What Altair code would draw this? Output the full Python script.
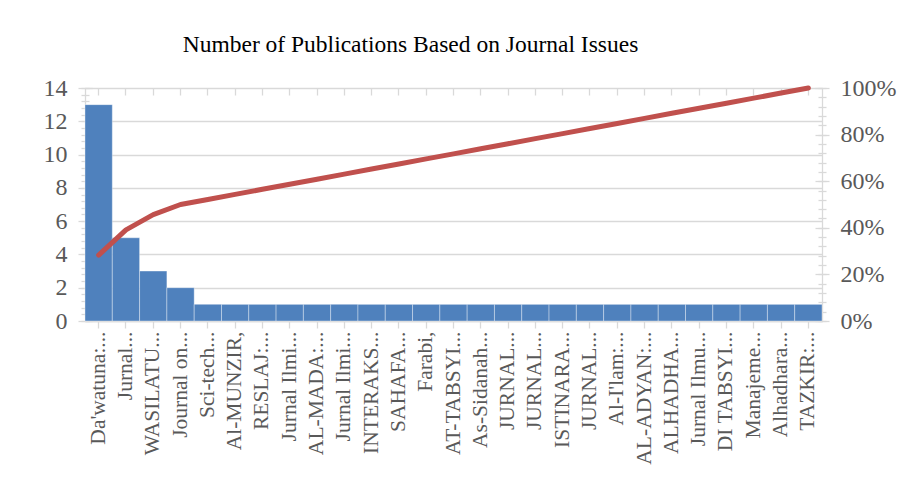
import altair as alt
import pandas as pd

journals = [
    "Da'watuna:...", "Jurnal...", "WASILATU...", "Journal on...", "Sci-tech...",
    "Al-MUNZIR,", "RESLAJ:...", "Jurnal Ilmi...", "AL-MADA:...", "Jurnal Ilmi... ",
    "INTERAKS...", "SAHAFA...", "Farabi,", "AT-TABSYI...", "As-Sidanah...",
    "JURNAL...", "JURNAL... ", "ISTINARA...", "JURNAL...  ", "Al-I'lam:...",
    "AL-ADYAN:...", "ALHADHA...", "Jurnal Ilmu...", "DI TABSYI...", "Manajeme...",
    "Alhadhara...", "TAZKIR:...",
]
counts = [13, 5, 3, 2] + [1] * 23

left_major = [0, 2, 4, 6, 8, 10, 12, 14]
left_minor = [round(k * 0.4, 1) for k in range(36)]
right_major = [0, 0.2, 0.4, 0.6, 0.8, 1.0]
right_minor = [round(k * 0.04, 2) for k in range(26)]

total = sum(counts)
cum = []
s = 0
for c in counts:
    s += c
    cum.append(s / total)

df = pd.DataFrame({"journal": journals, "count": counts, "cum": cum})

SERIF = "Liberation Serif"
LABEL_COLOR = "#595959"
GRID = "#D9D9D9"

xenc = alt.X(
    "journal:N",
    sort=journals,
    scale=alt.Scale(paddingInner=0, paddingOuter=0),
    axis=alt.Axis(
        title=None, labelAngle=-90, labelFont=SERIF, labelFontSize=21.5,
        labelColor=LABEL_COLOR, domainColor=GRID, domainWidth=1.3,
        tickColor=GRID, tickWidth=1.3, tickSize=7,
        bandPosition=0.5, labelPadding=3, labelLimit=300, labelAlign="right",
        labelBaseline="middle",
    ),
)
x_plain = alt.X("journal:N", sort=journals, axis=None)
x_ticks_inner = alt.X(
    "journal:N", sort=journals,
    axis=alt.Axis(
        title=None, labels=False, domain=False, grid=False, offset=-7,
        tickSize=7, tickColor=GRID, tickWidth=1.3, bandPosition=0.5,
    ),
)

left_scale = alt.Scale(domain=[0, 14], nice=False)
right_scale = alt.Scale(domain=[0, 1], nice=False)

bars = alt.Chart(df).mark_bar(
    color="#4F81BD", stroke="#FFFFFF", strokeWidth=0.8, strokeOpacity=0.45
).encode(
    x=xenc,
    y=alt.Y(
        "count:Q", scale=left_scale,
        axis=alt.Axis(
            title=None, values=left_major, labelFont=SERIF,
            labelFontSize=24, labelColor=LABEL_COLOR, domainColor=GRID,
            domainWidth=1.3, tickColor=GRID, tickWidth=1.3, tickSize=7,
            gridColor=GRID, gridWidth=1.3, labelPadding=11, orient="left",
        ),
    ),
)

def tick_layer(field, scale, values, orient, offset, size):
    return alt.Chart(df).mark_point(opacity=0).encode(
        x=x_plain,
        y=alt.Y(
            f"{field}:Q", scale=scale,
            axis=alt.Axis(
                title=None, values=values, labels=False, domain=False,
                grid=False, orient=orient, offset=offset, tickSize=size,
                tickColor=GRID, tickWidth=1.3,
            ),
        ),
    )

left_major_inner = tick_layer("count", left_scale, left_major, "left", -7, 7)
left_minor_ticks = tick_layer("count", left_scale, left_minor, "left", -4, 8)
right_major_inner = tick_layer("cum", right_scale, right_major, "right", -7, 7)
right_minor_ticks = tick_layer("cum", right_scale, right_minor, "right", -4, 8)

line = alt.Chart(df).mark_line(
    color="#C0504D", strokeWidth=5, strokeCap="round", strokeJoin="round"
).encode(
    x=x_plain,
    y=alt.Y(
        "cum:Q", scale=right_scale,
        axis=alt.Axis(
            title=None, values=right_major, format=".0%",
            labelFont=SERIF, labelFontSize=24, labelColor=LABEL_COLOR,
            domainColor=GRID, domainWidth=1.3, tickColor=GRID, tickWidth=1.3,
            tickSize=7, grid=False, labelPadding=11, orient="right",
        ),
    ),
)

x_inner = alt.Chart(df).mark_point(opacity=0).encode(
    x=x_ticks_inner, y=alt.Y("count:Q", scale=left_scale, axis=None)
)

chart = alt.layer(
    bars, left_major_inner, left_minor_ticks, x_inner,
    line, right_major_inner, right_minor_ticks,
).resolve_scale(y="independent").resolve_axis(x="independent").properties(
    width=737,
    height=233,
    padding={"left": 77, "top": 80, "right": 92, "bottom": 150},
    autosize=alt.AutoSizeParams(type="none"),
    title=alt.TitleParams(
        "Number of Publications Based on Journal Issues",
        font=SERIF, fontSize=23.5, fontWeight="normal", color="#000000",
        anchor="middle", offset=20, dx=-43,
    ),
).configure_view(stroke=None).configure(background="#FFFFFF")

chart.save("out.html", embed_options={"renderer": "svg", "actions": False})
